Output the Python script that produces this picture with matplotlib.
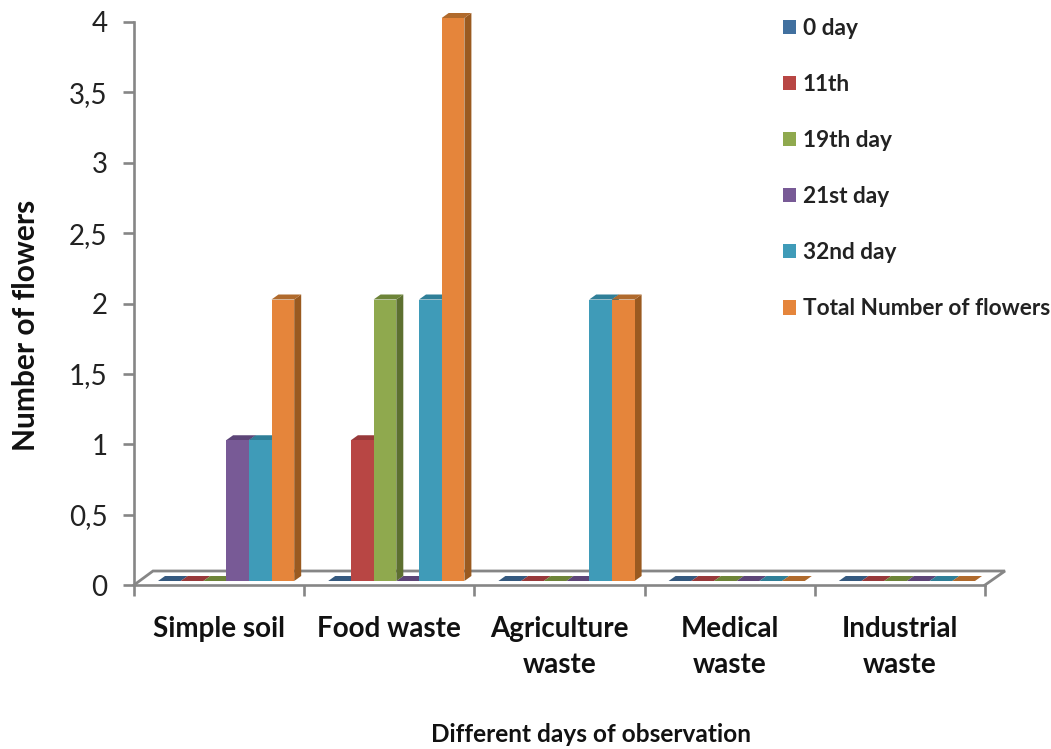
import matplotlib
matplotlib.use('Agg')
import matplotlib.pyplot as plt
from matplotlib.patches import Patch

plt.rcParams['font.family'] = ['Lato', 'DejaVu Sans']

categories = ['Simple soil', 'Food waste', 'Agriculture\nwaste', 'Medical\nwaste', 'Industrial\nwaste']
series_names = ['0 day', '11th', '19th day', '21st day', '32nd day', 'Total Number of flowers']

day_0 = [0, 0, 0, 0, 0]
day_11 = [0, 1, 0, 0, 0]
day_19 = [0, 2, 0, 0, 0]
day_21 = [1, 0, 0, 0, 0]
day_32 = [1, 2, 2, 0, 0]
total = [2, 4, 2, 0, 0]
all_series = [day_0, day_11, day_19, day_21, day_32, total]

y_ticks = [0, 0.5, 1, 1.5, 2, 2.5, 3, 3.5, 4]
y_tick_labels = ['0', '0,5', '1', '1,5', '2', '2,5', '3', '3,5', '4']

front_cols = ['#41709f', '#b84644', '#8fa94e', '#785a96', '#3f9bb8', '#e5853b']
side_cols = ['#2f5275', '#83302f', '#5d7030', '#4f3a66', '#2a6d83', '#9a5a20']
top_cols = ['#35597f', '#98393a', '#6d8438', '#5d4578', '#2f7f98', '#b06a2c']
grey = '#868686'

W, H = 1051, 749
X0, X1, Y0, Y4 = 134, 985, 585, 22

fig = plt.figure(figsize=(W / 100, H / 100), dpi=100)
ax = fig.add_axes([X0 / W, 1 - Y0 / H, (X1 - X0) / W, (Y0 - Y4) / H])
ax.set_xlim(0, 5)
ax.set_ylim(0, 4)

# one pixel in data units, the fake 3D offsets are set in pixels
px = 5 / (X1 - X0)
py = 4 / (Y0 - Y4)
bar_w = 22.7 * px
start = 24 * px
lift = 4 * py
dep_x, dep_y = 7 * px, 5 * py

# floor of the pseudo 3D box
floor_x = [0, 19 * px, 5 + 20 * px, 5]
floor_y = [0, 14 * py, 14 * py, 0]
ax.plot(floor_x, floor_y, color=grey, lw=2, clip_on=False, zorder=1, solid_joinstyle='miter')

for s, vals in enumerate(all_series):
    for c, v in enumerate(vals):
        x = c + start + s * bar_w
        if v == 0:
            # empty bars only show their lid on the floor
            ax.fill([x, x + bar_w, x + bar_w + dep_x, x + dep_x],
                    [lift, lift, lift + dep_y, lift + dep_y],
                    color=top_cols[s], lw=0, clip_on=False, zorder=2)
            continue
        z = 3 + s
        ax.fill([x + bar_w, x + bar_w + dep_x, x + bar_w + dep_x, x + bar_w],
                [lift, lift + dep_y, lift + v + dep_y, lift + v],
                color=side_cols[s], lw=0, clip_on=False, zorder=z)
        ax.fill([x, x + dep_x, x + bar_w + dep_x, x + bar_w],
                [lift + v, lift + v + dep_y, lift + v + dep_y, lift + v],
                color=top_cols[s], lw=0, clip_on=False, zorder=z)
        ax.bar(x, v, bar_w, bottom=lift, align='edge', color=front_cols[s],
               clip_on=False, zorder=z + 0.5)

for side in ['top', 'right']:
    ax.spines[side].set_visible(False)
for side in ['left', 'bottom']:
    ax.spines[side].set_color(grey)
    ax.spines[side].set_linewidth(1.9)
ax.spines['bottom'].set_zorder(12)

ax.set_yticks(y_ticks)
ax.set_yticklabels(y_tick_labels, fontsize=20, color='#222222')
ax.tick_params(axis='y', length=8, width=1.9, color=grey, pad=11)

ax.set_xticks(range(6))
ax.set_xticklabels([])
ax.set_xticks([i + 0.5 for i in range(5)], minor=True)
ax.set_xticklabels(categories, minor=True, fontsize=20, fontweight='bold',
                   color='#111111', linespacing=1.5)
ax.tick_params(axis='x', which='major', length=8, width=1.9, color=grey)
ax.tick_params(axis='x', which='minor', length=0, pad=22)

fig.text(26 / W, 1 - 325 / H, 'Number of flowers', rotation=90, ha='center', va='center',
         fontsize=21.5, fontweight='bold', color='#111111')
fig.text(591 / W, 1 - 735 / H, 'Different days of observation', ha='center', va='center',
         fontsize=17.6, fontweight='bold', color='#111111')

handles = [Patch(facecolor=c, edgecolor='none') for c in front_cols]
fig.legend(handles, series_names, loc='upper left', bbox_to_anchor=(783 / W, 1 - 18 / H),
           frameon=False, prop={'size': 16.3, 'weight': 'bold'}, labelcolor='#222222',
           handlelength=0.58, handleheight=0.58, handletextpad=0.3,
           labelspacing=1.55, borderpad=0, borderaxespad=0)

fig.savefig('out.png', dpi=100)
